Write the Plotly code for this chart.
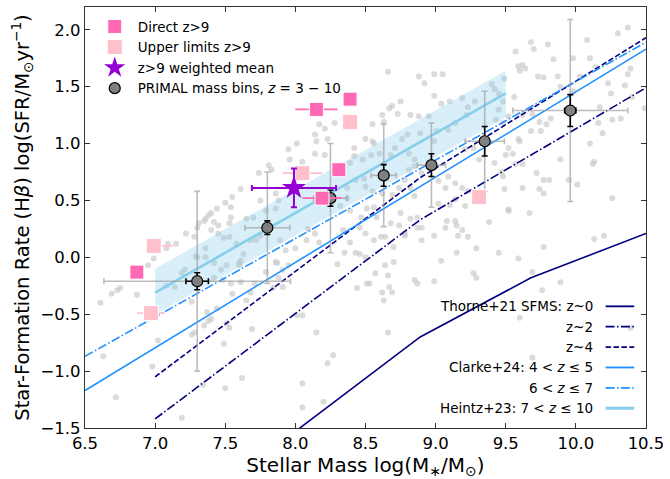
import plotly.graph_objects as go

# ---------------- data ----------------
# individual PRIMAL galaxies (background cloud)
field_pts = [
    (7.81, 0.81), (7.74, 0.74), (7.83, 0.77), (7.61, 0.60), (7.55, 0.53), (7.54, 0.44), (7.50, 0.48),
    (7.44, 0.43), (7.40, 0.39), (7.38, 0.37), (7.36, 0.34), (7.31, 0.30), (7.30, 0.26), (7.35, 0.32),
    (7.42, 0.31), (7.40, 0.24), (7.45, 0.28), (7.45, 0.21), (7.54, 0.35), (7.53, 0.30), (7.22, 0.21),
    (7.28, 0.18), (7.49, 0.17), (7.53, 0.18), (7.58, 0.12), (7.63, 0.03), (7.60, -0.05), (7.65, 0.34),
    (7.70, 0.35), (7.79, 0.41), (7.75, 0.50), (7.86, 0.56), (7.88, 0.50), (7.86, 0.43), (7.36, 0.08),
    (7.36, 0.00), (7.30, 0.00), (7.42, -0.05), (7.51, -0.07), (7.68, 0.15), (7.72, 0.15), (7.75, 0.19),
    (7.89, 0.15), (7.86, -0.04), (7.87, -0.05), (6.95, -0.07), (6.99, -0.01), (7.08, 0.08), (7.09, 0.12),
    (7.15, 0.12), (6.61, -0.40), (6.69, -0.32), (6.73, -0.29), (6.75, -0.27), (6.87, -0.33), (6.63, -0.87),
    (6.72, -1.23), (6.98, -0.96), (7.02, -0.73), (7.19, -1.41), (7.19, -0.14), (7.21, -0.11), (7.08, -0.25),
    (7.14, -0.26), (7.26, -0.39), (7.37, -0.48), (7.38, -0.56), (7.40, -0.54), (7.35, -0.60), (7.51, -0.58),
    (7.53, -0.62), (7.28, -0.66), (7.26, -0.68), (7.44, -0.45), (7.55, -0.32), (7.54, -0.23), (7.61, -0.22),
    (7.65, -0.38), (7.68, -0.31), (7.69, -0.63), (7.71, -0.23), (7.84, -0.27), (7.88, -0.18), (7.91, -0.26),
    (8.01, -0.51), (8.05, -0.51), (8.15, -0.66), (8.23, -0.93), (8.27, -0.86), (8.05, -1.11), (7.62, -1.06),
    (7.50, -1.15), (7.49, -0.76), (7.34, -1.12), (8.05, -1.32), (8.20, -1.27), (8.51, -0.23), (8.44, -0.27),
    (8.30, -0.06), (8.46, 0.03), (8.50, 0.00), (7.29, 0.01), (7.61, -0.03), (7.60, -0.07), (7.47, -0.11),
    (7.42, -0.18), (7.48, -0.20), (7.79, -0.13), (7.91, -0.11), (7.95, -0.07),
    (9.52, 0.41), (9.67, 0.39), (9.38, 0.31), (9.14, 0.32), (9.15, 0.28), (9.07, 0.26), (9.16, 0.19),
    (8.99, 0.19), (8.90, 0.15), (8.78, 0.21), (8.87, 0.26), (8.75, 0.39), (8.74, 0.28), (8.56, 0.15),
    (8.64, 0.18), (8.70, -0.04), (8.64, -0.07), (8.57, -0.14), (8.66, -0.16), (8.53, -0.23), (8.62, -0.31),
    (8.67, -0.26), (8.69, -0.31), (8.63, -0.38), (8.85, -0.20), (8.87, -0.23), (8.99, -0.21), (9.04, -0.03),
    (9.27, -0.14), (9.29, -0.18), (9.45, 0.04), (9.59, -0.01), (9.69, -0.13), (9.89, -0.22), (9.76, -0.29),
    (9.60, -0.53), (10.20, 0.19), (10.13, 0.16), (8.66, -0.66), (9.69, -0.88), (10.39, -0.62),
    (10.30, 1.97), (10.37, 2.02), (10.08, 1.91), (9.68, 1.89), (9.80, 1.87), (9.70, 1.83), (9.57, 1.81),
    (9.84, 1.74), (9.98, 1.75), (9.62, 1.69), (9.59, 1.68), (9.64, 1.66), (9.60, 1.64), (9.73, 1.59),
    (9.77, 1.58), (9.87, 1.59), (9.89, 1.50), (10.03, 1.59), (10.14, 1.67), (10.39, 1.66), (10.23, 1.53),
    (10.25, 1.44), (10.35, 1.51), (10.40, 1.41), (10.49, 1.31), (9.98, 1.46), (9.56, 1.41), (9.42, 1.48),
    (9.40, 1.52), (9.49, 1.57), (9.45, 1.44), (9.48, 1.37), (9.45, 1.30), (9.43, 1.21), (9.48, 1.18),
    (9.52, 1.24), (9.62, 1.25), (9.69, 1.26), (9.74, 1.19), (9.75, 1.11), (9.79, 1.17), (9.82, 1.22),
    (9.68, 1.11), (9.59, 1.04), (9.60, 1.02), (9.52, 0.96), (9.55, 0.91), (9.50, 0.90), (9.62, 0.82),
    (9.57, 0.82), (9.42, 0.83), (9.47, 0.75), (9.48, 0.71), (9.72, 0.74), (9.77, 0.68), (9.81, 0.68),
    (9.74, 0.60), (9.62, 0.61), (9.49, 0.60), (9.52, 0.42), (9.89, 0.86), (9.95, 0.68), (10.01, 0.64),
    (10.13, 0.84), (10.10, 1.00), (10.16, 1.18), (10.19, 1.09), (10.26, 1.21), (10.32, 1.22), (10.17, 1.32),
    (10.26, 0.52), (10.10, 1.75), (10.37, 1.61), (10.12, 0.82), (9.77, 0.56), (9.77, 0.09),
    (8.66, 1.63), (8.88, 1.59), (8.99, 1.61), (9.05, 1.61), (8.92, 1.53), (8.99, 1.42), (8.75, 1.37),
    (8.73, 1.26), (8.69, 1.33), (8.67, 1.31), (8.62, 1.25), (8.63, 1.19), (8.82, 1.25), (8.88, 1.24),
    (8.95, 1.24), (9.04, 1.35), (9.10, 1.37), (9.19, 1.40), (9.23, 1.32), (9.22, 1.25), (9.28, 1.37),
    (9.14, 1.18), (9.09, 1.12), (9.01, 1.11), (8.99, 1.02), (8.89, 1.09), (8.80, 1.08), (8.76, 1.04),
    (8.55, 1.17), (8.50, 1.04), (8.56, 1.00), (8.60, 0.91), (8.68, 0.90), (8.71, 0.96), (8.81, 0.91),
    (8.85, 0.86), (8.85, 0.80), (8.90, 0.74), (8.81, 0.77), (8.78, 0.68), (8.74, 0.61), (8.82, 0.61),
    (8.85, 0.54), (9.02, 0.67), (9.09, 0.71), (9.07, 0.61), (9.14, 0.65), (9.19, 0.61), (9.23, 0.58),
    (9.02, 0.47), (9.10, 0.46), (9.14, 0.51), (9.21, 0.45), (9.31, 0.58), (9.31, 0.86), (9.27, 0.96),
    (9.21, 0.95), (8.42, 0.96), (8.42, 0.89), (8.39, 0.83), (8.48, 0.86), (8.54, 0.90), (8.49, 0.69),
    (8.50, 0.62), (8.55, 0.58), (8.62, 0.56), (8.69, 0.55), (8.43, 0.68), (8.37, 0.61), (8.37, 0.52),
    (8.32, 0.45), (8.25, 0.47), (8.14, 0.91), (8.21, 0.90), (8.15, 1.02), (8.23, 1.04), (8.28, 1.18),
    (8.21, 1.13), (8.14, 1.08), (8.17, 1.17), (8.01, 1.00), (7.95, 0.95), (8.05, 0.84), (7.96, 0.86),
    (8.55, 1.02),
    (7.93, 0.06), (8.00, 0.08), (8.08, 0.15), (8.14, 0.21), (8.17, 0.13), (8.09, 0.25), (8.34, 0.24),
    (8.39, 0.13), (8.46, 0.26), (8.50, 0.21), (8.47, 0.35), (8.51, 0.43), (8.39, 0.41), (8.35, 0.04),
    (8.43, 0.04), (8.61, 0.18), (8.70, 0.09), (8.78, 0.19), (8.68, 0.30), (8.58, 0.35), (8.56, 0.44),
    (8.82, 0.34), (8.87, 0.35), (8.90, 0.26), (9.08, 0.32), (9.19, 0.24), (9.23, 0.18), (9.15, 0.04),
    (9.29, 0.08),
]
field_mass = [p[0] for p in field_pts]
field_sfr = [p[1] for p in field_pts]

# PRIMAL mass bins, z = 3-10
bin_mass = [7.30, 7.80, 8.25, 8.63, 8.97, 9.35, 9.96]
bin_sfr = [-0.21, 0.26, 0.52, 0.72, 0.81, 1.02, 1.29]
bin_mass_err = [0.08, 0.03, 0.03, 0.03, 0.03, 0.03, 0.04]
bin_sfr_err = [0.075, 0.06, 0.07, 0.095, 0.10, 0.13, 0.14]
bin_mass_spread = [0.665, 0.16, 0.12, 0.09, 0.10, 0.14, 0.41]
bin_sfr_spread = [0.79, 0.49, 0.48, 0.45, 0.37, 0.44, 0.80]

# z>9 galaxies with direct detections
direct_mass = [6.87, 8.15, 8.39, 8.31, 8.19]
direct_sfr = [-0.13, 1.30, 1.39, 0.77, 0.52]
direct_mass_err = [0.0, 0.15, 0.0, 0.0, 0.14]

# z>9 upper limits
ul_mass = [6.99, 6.97, 8.05, 8.39, 9.31]
ul_sfr = [0.10, -0.49, 0.74, 1.19, 0.53]
ul_mass_err_hi = [0.14, 0.10, 0.14, 0.0, 0.0]
ul_mass_err_lo = [0.0, 0.10, 0.14, 0.0, 0.0]

# z>9 weighted mean
mean_mass = [7.99]
mean_sfr = [0.61]
mean_mass_err = [0.30]
mean_sfr_err = [0.17]

# literature star-forming main sequences
thorne_z0_mass = [8.0, 8.89, 9.68, 10.5]
thorne_z0_sfr = [-1.53, -0.70, -0.18, 0.21]
thorne_z2_mass = [7.0, 8.89, 10.5]
thorne_z2_sfr = [-1.42, 0.33, 1.49]
thorne_z4_mass = [7.0, 8.89, 10.5]
thorne_z4_sfr = [-1.05, 0.70, 1.93]
clarke_z45_mass = [6.5, 10.5]
clarke_z45_sfr = [-1.17, 1.83]
clarke_z67_mass = [6.5, 10.5]
clarke_z67_sfr = [-0.87, 1.89]
heintz_mass = [7.0, 9.5]
heintz_sfr = [-0.31, 1.44]
heintz_sfr_lo = [-0.50, 1.23]
heintz_sfr_hi = [-0.10, 1.64]

x_ticks = [6.5, 7.0, 7.5, 8.0, 8.5, 9.0, 9.5, 10.0, 10.5]
y_ticks = [-1.5, -1.0, -0.5, 0.0, 0.5, 1.0, 1.5, 2.0]

# ---------------- styles ----------------
NAVY = "#000080"
DODGER = "#1E90FF"
SKY = "#87CEEB"
HOTPINK = "#FF69B4"
PINK = "#FFC0CB"
VIOLET = "#9400D3"
FONT = "DejaVu Sans"
DASHDOT = "9px,2.4px,1.5px,2.4px"
DASHED = "5.5px,2.4px"

fig = go.Figure()

# background galaxies
fig.add_trace(go.Scatter(
    x=field_mass, y=field_sfr, mode="markers", showlegend=False,
    marker=dict(size=6, color="rgba(200,200,200,0.65)", line=dict(width=0)),
))

# Heintz+23 uncertainty band
fig.add_trace(go.Scatter(
    x=heintz_mass + heintz_mass[::-1], y=heintz_sfr_hi + heintz_sfr_lo[::-1],
    fill="toself", mode="lines", line=dict(width=0),
    fillcolor="rgba(135,206,235,0.32)", showlegend=False, hoverinfo="skip",
))

relations = [
    (thorne_z0_mass, thorne_z0_sfr, NAVY, "solid", 1.6),
    (thorne_z2_mass, thorne_z2_sfr, NAVY, DASHDOT, 1.6),
    (thorne_z4_mass, thorne_z4_sfr, NAVY, DASHED, 1.6),
    (clarke_z45_mass, clarke_z45_sfr, DODGER, "solid", 1.6),
    (clarke_z67_mass, clarke_z67_sfr, DODGER, DASHDOT, 1.6),
    (heintz_mass, heintz_sfr, SKY, "solid", 2.6),
]
for xs, ys, col, dash, w in relations:
    fig.add_trace(go.Scatter(
        x=xs, y=ys, mode="lines", showlegend=False,
        line=dict(color=col, dash=dash, width=w),
    ))

# bin spread (grey bars)
fig.add_trace(go.Scatter(
    x=bin_mass, y=bin_sfr, mode="markers", showlegend=False,
    marker=dict(size=1, color="rgba(0,0,0,0)"),
    error_x=dict(type="data", array=bin_mass_spread, color="rgba(160,160,160,0.7)", thickness=1.6, width=3),
    error_y=dict(type="data", array=bin_sfr_spread, color="rgba(160,160,160,0.7)", thickness=1.6, width=3),
))

# bins with their uncertainties
fig.add_trace(go.Scatter(
    x=bin_mass, y=bin_sfr, mode="markers", name="PRIMAL mass bins, <i>z</i> = 3 − 10",
    legendrank=4,
    marker=dict(size=11, color="#808080", line=dict(color="black", width=1.2)),
    error_x=dict(type="data", array=bin_mass_err, color="black", thickness=1.6, width=3),
    error_y=dict(type="data", array=bin_sfr_err, color="black", thickness=1.6, width=3),
))

fig.add_trace(go.Scatter(
    x=direct_mass, y=direct_sfr, mode="markers", name="Direct z>9",
    legendrank=1,
    marker=dict(symbol="square", size=14, color=HOTPINK, line=dict(color="white", width=1)),
    error_x=dict(type="data", array=direct_mass_err, color=HOTPINK, thickness=1.6, width=0),
))

fig.add_trace(go.Scatter(
    x=ul_mass, y=ul_sfr, mode="markers", name="Upper limits z>9",
    legendrank=2,
    marker=dict(symbol="square", size=15, color=PINK, line=dict(color="white", width=1)),
    error_x=dict(type="data", symmetric=False, array=ul_mass_err_hi, arrayminus=ul_mass_err_lo,
                 color=PINK, thickness=1.6, width=0),
))

fig.add_trace(go.Scatter(
    x=mean_mass, y=mean_sfr, mode="markers", name="z>9 weighted mean",
    legendrank=3,
    marker=dict(symbol="star", size=18, color=VIOLET, line=dict(color=VIOLET, width=0)),
    error_x=dict(type="data", array=mean_mass_err, color=VIOLET, thickness=2, width=3),
    error_y=dict(type="data", array=mean_sfr_err, color=VIOLET, thickness=2, width=3),
))

# right-hand key for the main-sequence relations
key_rows = [
    ("Thorne+21 SFMS: z~0", NAVY, "solid", 1.8),
    ("z~2", NAVY, DASHDOT, 1.8),
    ("z~4", NAVY, DASHED, 1.8),
    ("Clarke+24: 4 < <i>z</i> ≤ 5", DODGER, "solid", 1.8),
    ("6 < <i>z</i> ≤ 7", DODGER, DASHDOT, 1.8),
    ("Heintz+23: 7 < <i>z</i> ≤ 10", SKY, "solid", 3),
]
key_top = 0.289
key_step = 0.0484
for i, (label, col, dash, w) in enumerate(key_rows):
    yk = key_top - i * key_step
    fig.add_annotation(
        x=0.909, y=yk, xref="paper", yref="paper", text=label, showarrow=False,
        xanchor="right", yanchor="middle", font=dict(size=13.5, color="black", family=FONT),
    )
    fig.add_shape(
        type="line", xref="paper", yref="paper", x0=0.928, x1=0.979, y0=yk, y1=yk,
        line=dict(color=col, dash=dash, width=w),
    )

axis_common = dict(
    showline=True, linecolor="#333333", linewidth=1.3, mirror="allticks",
    ticks="inside", ticklen=5, tickwidth=1, tickcolor="#333333",
    showgrid=False, zeroline=False, tickformat=".1f",
    tickfont=dict(size=16.5, color="black", family=FONT),
)

fig.update_layout(
    width=670, height=479,
    margin=dict(l=85, r=19, t=6, b=51),
    paper_bgcolor="white", plot_bgcolor="white",
    font=dict(family=FONT, color="black"),
    xaxis=dict(range=[6.5, 10.5], tickvals=x_ticks,
               title=dict(text="Stellar Mass log(M<sub>∗</sub>/M<sub>⊙</sub>)",
                          font=dict(size=20), standoff=3),
               **axis_common),
    yaxis=dict(range=[-1.5, 2.2], tickvals=y_ticks,
               title=dict(text="Star-Formation Rate (H<i>β</i>) log(SFR/M<sub>⊙</sub>yr<sup>−1</sup>)",
                          font=dict(size=19.5), standoff=5),
               **axis_common),
    legend=dict(
        x=0.012, y=0.99, xanchor="left", yanchor="top",
        bgcolor="rgba(0,0,0,0)", borderwidth=0,
        font=dict(size=13.5, family=FONT, color="black"),
        traceorder="normal", itemsizing="trace", itemwidth=36,
    ),
)

fig.write_html("out.html")
